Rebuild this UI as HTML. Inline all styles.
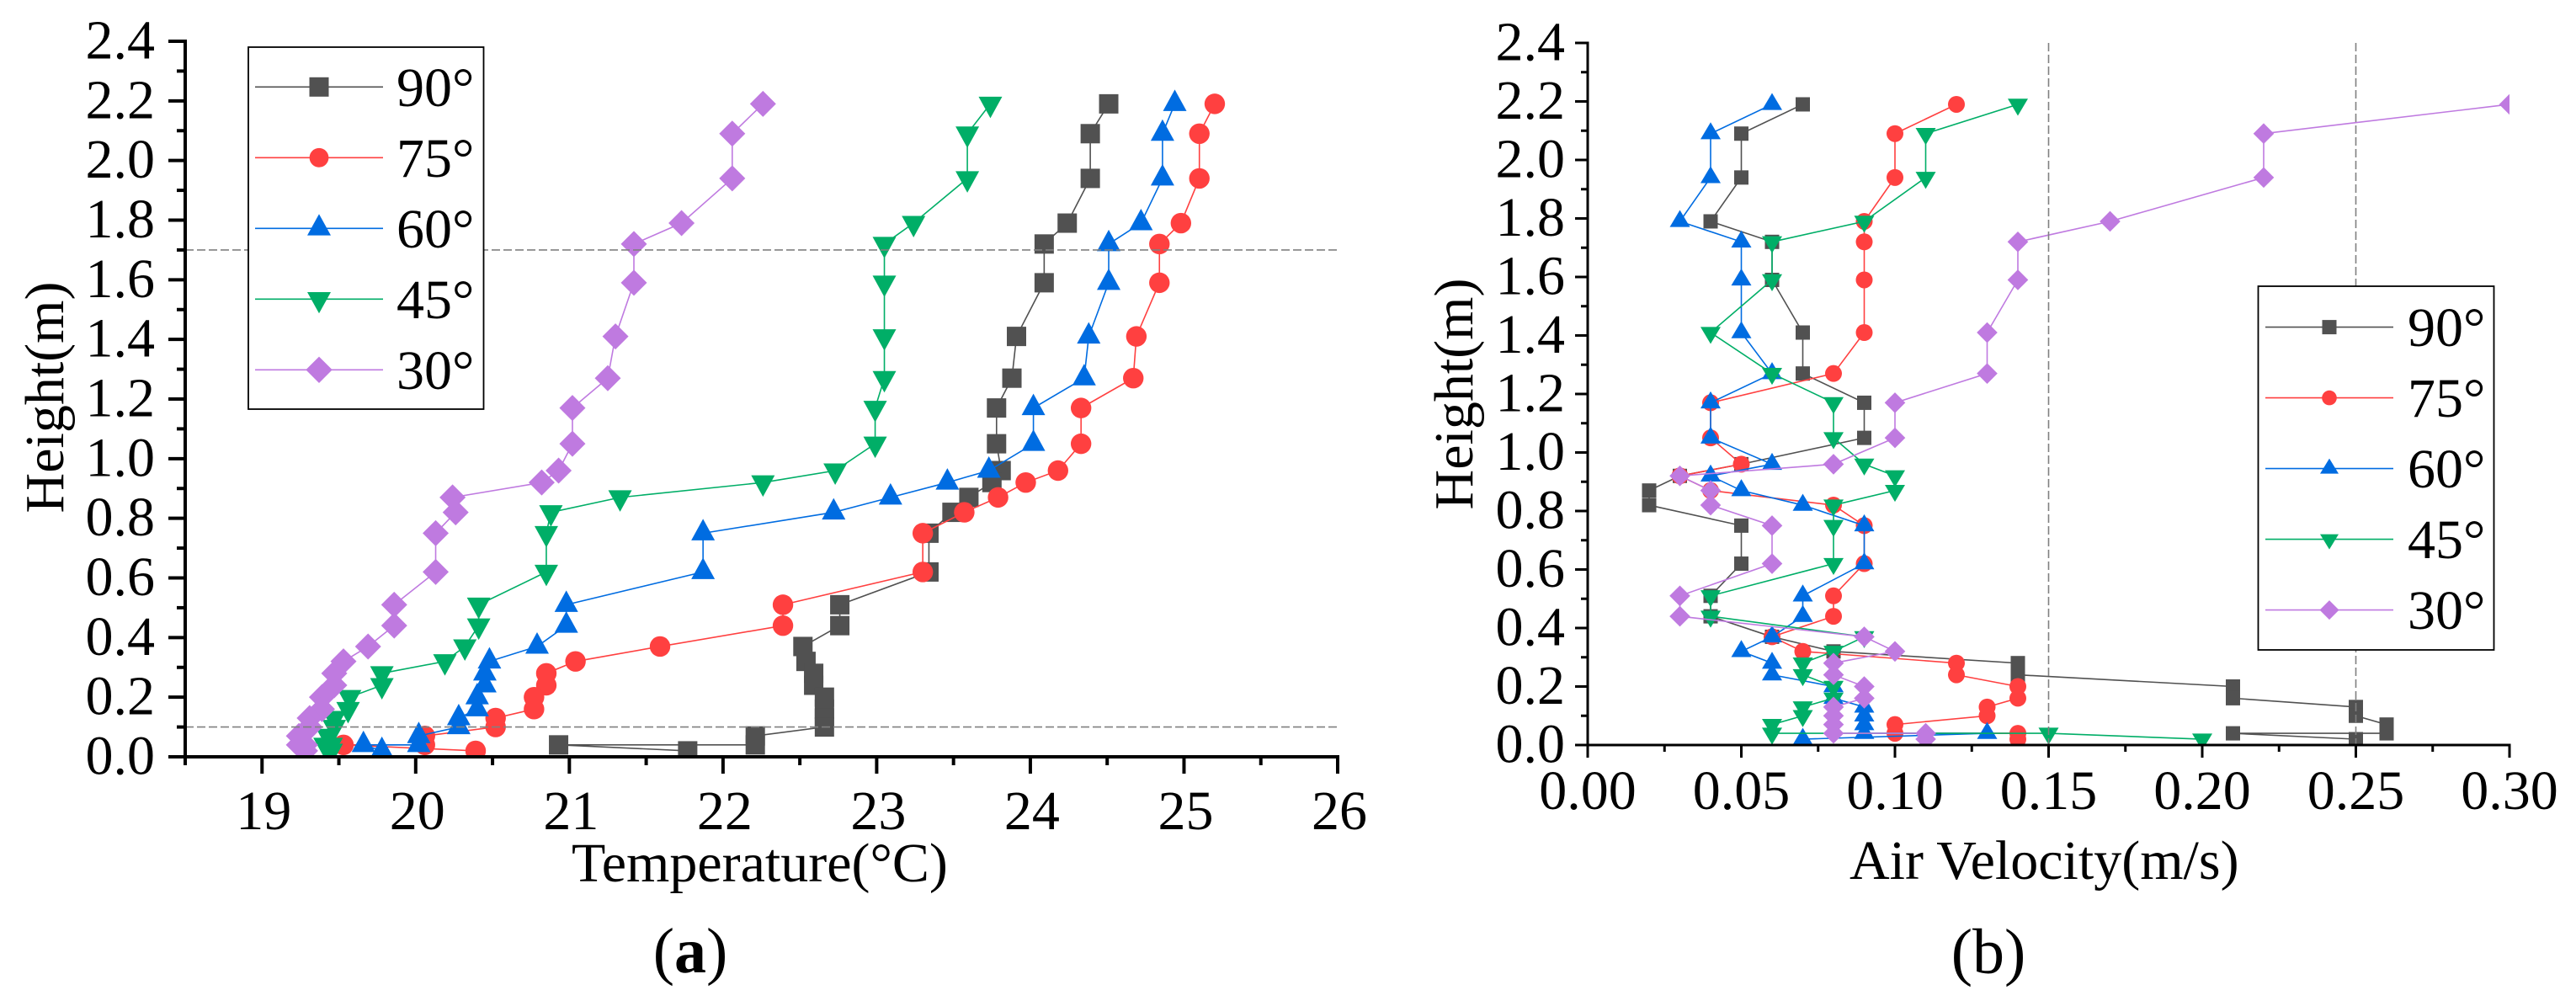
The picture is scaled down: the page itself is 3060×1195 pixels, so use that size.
<!DOCTYPE html>
<html lang="en">
<head>
<meta charset="utf-8">
<title>Height profiles of temperature and air velocity</title>
<style>
html,body{margin:0;padding:0;background:#fff;width:3060px;height:1195px;overflow:hidden}
svg{display:block}
text{font-family:"Liberation Serif",serif;fill:#000}
</style>
</head>
<body>
<svg id="figure" xmlns="http://www.w3.org/2000/svg" width="3060" height="1195" viewBox="0 0 3060 1195">
<rect x="0" y="0" width="3060" height="1195" fill="#fff"/>
<text x="820" y="1155" font-size="76" text-anchor="middle">(<tspan font-weight="bold">a</tspan>)</text>
<text x="2362" y="1156" font-size="76" text-anchor="middle">(b)</text>
</svg>
<script>
// Shared data
var heights = [2.19,2.09,1.94,1.79,1.72,1.59,1.41,1.27,1.17,1.05,0.96,0.92,0.87,0.82,0.75,0.62,0.51,0.44,0.37,0.32,0.28,0.24,0.20,0.16,0.13,0.10,0.07,0.04,0.04,0.02];
var seriesNames = ['90°','75°','60°','45°','30°'];
var seriesColors = ['#515151','#FF4040','#006CE1','#00AE67','#BF7AE0'];

// Panel (a): temperature
var temp90 = [24.51,24.39,24.39,24.24,24.09,24.09,23.91,23.88,23.78,23.78,23.81,23.75,23.60,23.49,23.34,23.34,22.76,22.76,22.52,22.54,22.59,22.59,22.66,22.66,22.66,22.66,22.21,22.21,20.93,21.77];
var temp75 = [25.20,25.10,25.10,24.98,24.84,24.84,24.69,24.67,24.33,24.33,24.18,23.97,23.79,23.57,23.30,23.30,22.39,22.39,21.59,21.04,20.85,20.85,20.77,20.77,20.52,20.52,20.06,20.06,19.53,20.39];
var temp60 = [24.94,24.86,24.86,24.72,24.51,24.51,24.38,24.35,24.02,24.02,23.73,23.46,23.09,22.72,21.87,21.87,20.98,20.98,20.79,20.48,20.45,20.45,20.40,20.40,20.28,20.28,20.02,20.02,19.66,19.78];
var temp45 = [23.74,23.59,23.59,23.24,23.05,23.05,23.05,23.05,22.99,22.99,22.73,22.26,21.33,20.88,20.85,20.85,20.41,20.41,20.32,20.19,19.78,19.78,19.57,19.56,19.47,19.47,19.43,19.41,19.45,19.45];
var temp30 = [22.26,22.06,22.06,21.73,21.42,21.42,21.30,21.25,21.02,21.02,20.93,20.82,20.24,20.26,20.13,20.13,19.86,19.86,19.69,19.53,19.47,19.47,19.39,19.39,19.31,19.31,19.24,19.24,19.28,19.28];
var tempTickLabels = ['19','20','21','22','23','24','25','26'];
var tempMinorTicks = [18.5,19.5,20.5,21.5,22.5,23.5,24.5,25.5];
var tempRefHeights = [1.7,0.1];

// Panel (b): air velocity
var vel90 = [0.07,0.05,0.05,0.04,0.06,0.06,0.07,0.07,0.09,0.09,0.05,0.03,0.02,0.02,0.05,0.05,0.04,0.04,0.06,0.08,0.14,0.14,0.21,0.21,0.25,0.25,0.26,0.26,0.21,0.25];
var vel75 = [0.12,0.10,0.10,0.09,0.09,0.09,0.09,0.08,0.04,0.04,0.05,0.03,0.04,0.08,0.09,0.09,0.08,0.08,0.06,0.07,0.12,0.12,0.14,0.14,0.13,0.13,0.10,0.10,0.14,0.14];
var vel60 = [0.06,0.04,0.04,0.03,0.05,0.05,0.05,0.06,0.04,0.04,0.06,0.04,0.05,0.07,0.09,0.09,0.07,0.07,0.06,0.05,0.06,0.06,0.08,0.08,0.09,0.09,0.09,0.09,0.13,0.07];
var vel45 = [0.14,0.11,0.11,0.09,0.06,0.06,0.04,0.06,0.08,0.08,0.09,0.10,0.10,0.08,0.08,0.08,0.04,0.04,0.09,0.08,0.07,0.07,0.08,0.08,0.07,0.07,0.06,0.06,0.15,0.20];
var vel30 = [0.30,0.22,0.22,0.17,0.14,0.14,0.13,0.13,0.10,0.10,0.08,0.03,0.04,0.04,0.06,0.06,0.03,0.03,0.09,0.10,0.08,0.08,0.09,0.09,0.08,0.08,0.08,0.08,0.11,0.11];
var velTickLabels = ['0.00','0.05','0.10','0.15','0.20','0.25','0.30'];
var velMinorTicks = [0.025,0.075,0.125,0.175,0.225,0.275];
var velRefValues = [0.15,0.25];

// Shared height axis
var heightTickLabels = ['0.0','0.2','0.4','0.6','0.8','1.0','1.2','1.4','1.6','1.8','2.0','2.2','2.4'];
var heightMinorTicks = [0.1,0.3,0.5,0.7,0.9,1.1,1.3,1.5,1.7,1.9,2.1,2.3];

var NS = 'http://www.w3.org/2000/svg';
var root = document.getElementById('figure');

function node(parent, tag, attrs, txt) {
  var el = document.createElementNS(NS, tag);
  for (var k in attrs) { el.setAttribute(k, attrs[k]); }
  if (txt !== undefined) { el.textContent = txt; }
  parent.appendChild(el);
  return el;
}

function drawMarker(parent, shape, cx, cy, s, color) {
  var el;
  if (shape === 0) {
    el = node(parent, 'rect', {x: cx - s.square / 2, y: cy - s.square / 2, width: s.square, height: s.square, fill: color});
  } else if (shape === 1) {
    el = node(parent, 'circle', {cx: cx, cy: cy, r: s.circle, fill: color});
  } else if (shape === 2) {
    el = node(parent, 'polygon', {points: cx + ',' + (cy - s.triTip) + ' ' + (cx + s.triHalf) + ',' + (cy + s.triBase) + ' ' + (cx - s.triHalf) + ',' + (cy + s.triBase), fill: color});
  } else if (shape === 3) {
    el = node(parent, 'polygon', {points: cx + ',' + (cy + s.triTip) + ' ' + (cx + s.triHalf) + ',' + (cy - s.triBase) + ' ' + (cx - s.triHalf) + ',' + (cy - s.triBase), fill: color});
  } else {
    el = node(parent, 'polygon', {points: cx + ',' + (cy - s.diamond) + ' ' + (cx + s.diamond) + ',' + cy + ' ' + cx + ',' + (cy + s.diamond) + ' ' + (cx - s.diamond) + ',' + cy, fill: color});
  }
  return el;
}

function drawPanel(p) {
  var sx = function (v) { return p.x0 + (v - p.xMin) / (p.xMax - p.xMin) * (p.x1 - p.x0); };
  var sy = function (h) { return p.y0 - h / 2.4 * (p.y0 - p.y1); };

  var panel = node(root, 'g', {});
  
  

  var clipId = p.name + '-clip';
  var defs = node(panel, 'defs', {});
  var clip = node(defs, 'clipPath', {id: clipId});
  node(clip, 'rect', {x: p.x0, y: p.y1 - 5, width: p.x1 - p.x0, height: p.y0 - p.y1 + 5});

  // Series
  var plot = node(panel, 'g', {'clip-path': 'url(#' + clipId + ')'});
  
  
  p.series.forEach(function (values, si) {
    var group = node(plot, 'g', {});
    
    
    var pts = values.map(function (v, i) { return sx(v).toFixed(2) + ',' + sy(heights[i]).toFixed(2); }).join(' ');
    var line = node(group, 'polyline', {points: pts, fill: 'none', stroke: seriesColors[si], 'stroke-width': 1.6});
    
    
    values.forEach(function (v, i) {
      var m = drawMarker(group, si, sx(v), sy(heights[i]), p.marker, seriesColors[si]);
      
      
    });
  });

  // Reference dashes
  p.hRefs.forEach(function (h) {
    var l = node(panel, 'line', {x1: p.x0, x2: p.x1, y1: sy(h), y2: sy(h), stroke: '#808080', 'stroke-width': 1.6, 'stroke-dasharray': '10 4'});
    
    
  });
  p.vRefs.forEach(function (v) {
    var l = node(panel, 'line', {x1: sx(v), x2: sx(v), y1: p.y1, y2: p.y0, stroke: '#808080', 'stroke-width': 1.6, 'stroke-dasharray': '10 4'});
    
    
  });

  // Axes
  var axes = node(panel, 'g', {stroke: '#000'});
  
  
  var sp = node(axes, 'line', {x1: p.x0, x2: p.x0, y1: p.y1 - p.tw / 2, y2: p.y0, 'stroke-width': p.aw});
  
  
  var bt = node(axes, 'line', {x1: p.x0 - p.major, x2: p.x1 + p.aw / 2, y1: p.y0, y2: p.y0, 'stroke-width': p.aw});
  
  

  heightTickLabels.forEach(function (lab) {
    var y = sy(parseFloat(lab));
    var t = node(axes, 'line', {x1: p.x0 - p.major, x2: p.x0, y1: y, y2: y, 'stroke-width': p.tw});
    
    
    var tx = node(panel, 'text', {x: p.yLabelX, y: y + 20.5, 'font-size': 66, 'text-anchor': 'end'}, lab);
    
    
  });
  heightMinorTicks.forEach(function (h) {
    var t = node(axes, 'line', {x1: p.x0 - p.minor, x2: p.x0, y1: sy(h), y2: sy(h), 'stroke-width': p.tw});
    
    
  });
  p.xLabels.forEach(function (lab) {
    var x = sx(parseFloat(lab));
    var t = node(axes, 'line', {x1: x, x2: x, y1: p.y0, y2: p.y0 + p.major, 'stroke-width': p.tw});
    
    
    var tx = node(panel, 'text', {x: x + p.xLabelDx, y: p.xLabelY, 'font-size': 66, 'text-anchor': 'middle'}, lab);
    
    
  });
  p.xMinor.forEach(function (v) {
    var t = node(axes, 'line', {x1: sx(v), x2: sx(v), y1: p.y0, y2: p.y0 + p.minor, 'stroke-width': p.tw});
    
    
  });

  // Titles
  var xt = node(panel, 'text', {x: p.xTitleX, y: p.xTitleY, 'font-size': 66}, p.xTitle);
  
  
  var yt = node(panel, 'text', {transform: 'translate(' + p.yTitleX + ',' + p.yTitleY + ') rotate(-90)', 'font-size': 66, 'text-anchor': 'middle'}, 'Height(m)');
  
  

  // Legend
  var lg = node(panel, 'g', {});
  
  
  var box = node(lg, 'rect', {x: p.legend.x, y: p.legend.y, width: p.legend.w, height: p.legend.h, fill: '#fff', stroke: '#000', 'stroke-width': 1.8});
  
  
  seriesNames.forEach(function (name, si) {
    var y = p.legend.row0 + 84 * si;
    var entry = node(lg, 'g', {});
    
    
    node(entry, 'line', {x1: p.legend.lx0, x2: p.legend.lx1, y1: y, y2: y, stroke: seriesColors[si], 'stroke-width': 1.6});
    drawMarker(entry, si, (p.legend.lx0 + p.legend.lx1) / 2, y, p.legendMarker, seriesColors[si]);
    node(entry, 'text', {x: p.legend.tx, y: y + 22.5, 'font-size': 66}, name);
  });
}

drawPanel({
  name: 'temperature', xMin: 18.5, xMax: 26, x0: 220, x1: 1589, y0: 899, y1: 49,
  aw: 4, tw: 4, major: 20, minor: 10,
  series: [temp90, temp75, temp60, temp45, temp30],
  hRefs: tempRefHeights, vRefs: [],
  xLabels: tempTickLabels, xMinor: tempMinorTicks,
  xLabelY: 985, xLabelDx: 2, yLabelX: 184,
  xTitle: 'Temperature(°C)', xTitleX: 679, xTitleY: 1047, yTitleX: 75, yTitleY: 472,
  marker: {square: 23, circle: 12.2, triTip: 17, triBase: 8.5, triHalf: 14, diamond: 15.5},
  legendMarker: {square: 23, circle: 11.4, triTip: 17, triBase: 8.3, triHalf: 14, diamond: 15.7},
  legend: {x: 295, y: 56, w: 279.5, h: 430, row0: 103.3, lx0: 303, lx1: 455, tx: 471}
});

drawPanel({
  name: 'velocity', xMin: 0, xMax: 0.30, x0: 1886, x1: 2981, y0: 885, y1: 51,
  aw: 3, tw: 3, major: 15, minor: 8,
  series: [vel90, vel75, vel60, vel45, vel30],
  hRefs: [], vRefs: velRefValues,
  xLabels: velTickLabels, xMinor: velMinorTicks,
  xLabelY: 961, xLabelDx: 0, yLabelX: 1859,
  xTitle: 'Air Velocity(m/s)', xTitleX: 2197, xTitleY: 1044, yTitleX: 1749, yTitleY: 468,
  marker: {square: 17, circle: 10, triTip: 13.5, triBase: 6.7, triHalf: 12, diamond: 12.3},
  legendMarker: {square: 17, circle: 8.8, triTip: 12, triBase: 6, triHalf: 11, diamond: 11.5},
  legend: {x: 2682.5, y: 340, w: 280, h: 432, row0: 388.6, lx0: 2691, lx1: 2843, tx: 2860}
});
</script>
</body>
</html>
